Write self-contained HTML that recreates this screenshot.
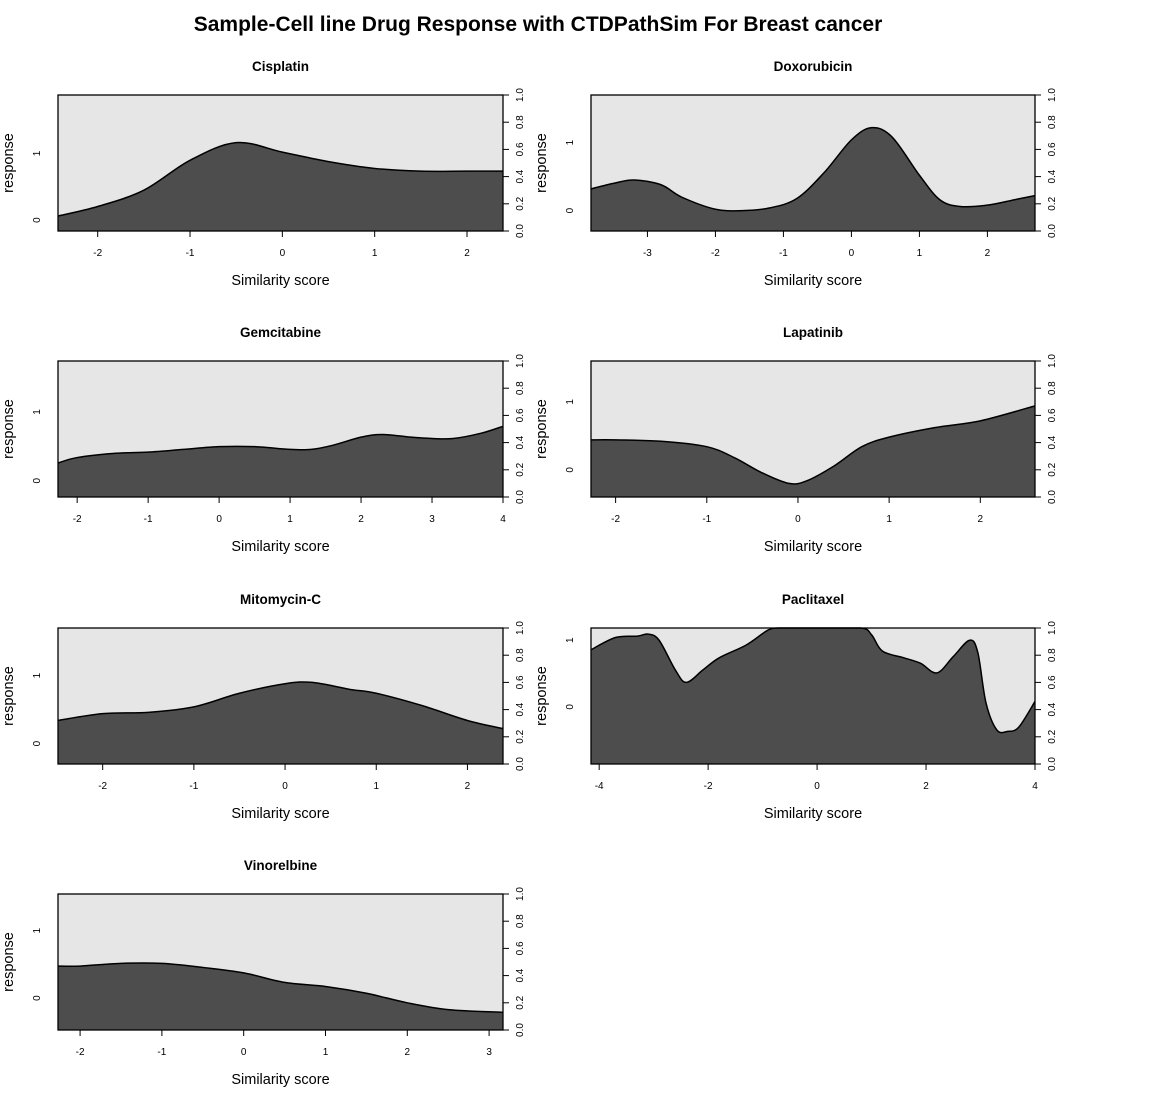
<!DOCTYPE html>
<html><head><meta charset="utf-8">
<style>
html,body{margin:0;padding:0;background:#fff;}
svg{display:block;}
text{font-family:"Liberation Sans",Arial,sans-serif;fill:#000;}
</style></head>
<body>
<svg id="chart" width="1175" height="1103" viewBox="0 0 1175 1103" xmlns="http://www.w3.org/2000/svg">
<text x="538" y="31" text-anchor="middle" font-size="21" font-weight="bold" style="font-family:'Liberation Sans',sans-serif">Sample-Cell line Drug Response with CTDPathSim For Breast cancer</text>
</svg>
<script>
// ---- data ----
const drugNames = ["Cisplatin","Doxorubicin","Gemcitabine","Lapatinib","Mitomycin-C","Paclitaxel","Vinorelbine"];
const xDomains = [[-2.43,2.39],[-3.83,2.7],[-2.27,4.0],[-2.27,2.6],[-2.49,2.39],[-4.15,4.0],[-2.27,3.17]];
const xTicks = [[-2,-1,0,1,2],[-3,-2,-1,0,1,2],[-2,-1,0,1,2,3,4],[-2,-1,0,1,2],[-2,-1,0,1,2],[-4,-2,0,2,4],[-2,-1,0,1,2,3]];
const rightTicks = [0,0.2,0.4,0.6,0.8,1.0];
const rightTickLabels = ["0.0","0.2","0.4","0.6","0.8","1.0"];
const leftTickLabels = ["0","1"];
// left axis tick positions, expressed in right-axis (0-1) units
const leftTickPos = [[0.08,0.57],[0.15,0.65],[0.12,0.625],[0.2,0.70],[0.15,0.65],[0.42,0.91],[0.235,0.73]];
const curveX = [
 [-2.43,-2,-1.5,-1,-0.5,0,0.5,1,1.5,2,2.39],
 [-3.83,-3.5,-3.2,-2.8,-2.5,-2,-1.6,-1.2,-0.8,-0.4,0,0.3,0.6,1,1.3,1.6,2,2.4,2.7],
 [-2.27,-2,-1.5,-1,-0.5,0,0.5,1,1.3,1.6,2,2.3,2.7,3,3.3,3.7,4],
 [-2.27,-2,-1.5,-1,-0.7,-0.4,-0.1,0.1,0.4,0.7,1,1.5,2,2.6],
 [-2.49,-2,-1.5,-1,-0.5,0,0.3,0.7,1,1.5,2,2.39],
 [-4.15,-3.7,-3.3,-3.1,-2.9,-2.6,-2.4,-2.1,-1.8,-1.3,-0.9,-0.7,0,0.8,1.0,1.2,1.6,1.9,2.2,2.5,2.8,2.95,3.1,3.3,3.5,3.7,4.0],
 [-2.27,-2,-1.5,-1,-0.5,0,0.5,1,1.5,2,2.5,3.17]
];
const curveY = [
 [0.11,0.18,0.30,0.52,0.65,0.58,0.51,0.46,0.44,0.44,0.44],
 [0.31,0.35,0.375,0.34,0.25,0.16,0.15,0.17,0.24,0.43,0.67,0.76,0.69,0.41,0.23,0.18,0.19,0.23,0.26],
 [0.25,0.29,0.32,0.33,0.35,0.37,0.37,0.35,0.35,0.38,0.44,0.46,0.44,0.43,0.43,0.47,0.52],
 [0.42,0.42,0.41,0.37,0.29,0.18,0.10,0.12,0.23,0.37,0.44,0.51,0.56,0.67],
 [0.32,0.37,0.38,0.42,0.52,0.59,0.60,0.55,0.52,0.43,0.32,0.26],
 [0.84,0.93,0.94,0.955,0.91,0.69,0.60,0.69,0.78,0.875,0.985,1.0,1.0,1.0,0.95,0.83,0.78,0.74,0.67,0.79,0.91,0.82,0.45,0.25,0.24,0.27,0.46],
 [0.47,0.47,0.49,0.49,0.46,0.42,0.35,0.32,0.27,0.20,0.15,0.13]
];
// ---- layout ----
const NS="http://www.w3.org/2000/svg";
const svg=document.getElementById('chart');
const colL=[58,503], colR=[591,1035];
const rowsTop=[95,361,628,894], H=136;
function mk(tag,attrs,parent){const e=document.createElementNS(NS,tag);for(const k in attrs)e.setAttribute(k,attrs[k]);(parent||svg).appendChild(e);return e;}
function fmt(v){return v<0?"-"+Math.abs(v):String(v);}

drugNames.forEach((name,i)=>{
  const col=i%2===0?colL:colR, top=rowsTop[Math.floor(i/2)], bot=top+H;
  const x0=col[0],x1=col[1];
  const [d0,d1]=xDomains[i];
  const sx=v=>x0+(v-d0)/(d1-d0)*(x1-x0);
  const sy=v=>bot-Math.min(1,Math.max(0,v))*H;
  const g=mk('g',{});
  
  
  const t=mk('text',{x:(x0+x1)/2,y:top-24,'text-anchor':'middle','font-size':13.5,'font-weight':'bold'},g);
  t.textContent=name;
  
  
  const bg=mk('rect',{x:x0,y:top,width:x1-x0,height:H,fill:'#e6e6e6'},g);
  
  
  // smooth curve (Catmull-Rom)
  const xs=curveX[i], ys=curveY[i];
  const P=xs.map((x,k)=>[sx(x),sy(ys[k])]);
  let d="M"+P[0][0]+","+P[0][1];
  for(let k=0;k<P.length-1;k++){
    const p0=P[Math.max(0,k-1)],p1=P[k],p2=P[k+1],p3=P[Math.min(P.length-1,k+2)];
    const c1=[p1[0]+(p2[0]-p0[0])/6, Math.max(top,Math.min(bot,p1[1]+(p2[1]-p0[1])/6))];
    const c2=[p2[0]-(p3[0]-p1[0])/6, Math.max(top,Math.min(bot,p2[1]-(p3[1]-p1[1])/6))];
    d+=" C"+c1[0]+","+c1[1]+" "+c2[0]+","+c2[1]+" "+p2[0]+","+p2[1];
  }
  const area=mk('path',{d:d+" L"+P[P.length-1][0]+","+bot+" L"+P[0][0]+","+bot+" Z",fill:'#4d4d4d'},g);
  
  
  const line=mk('path',{d:d,fill:'none',stroke:'#000','stroke-width':1.5},g);
  
  
  const fr=mk('rect',{x:x0,y:top,width:x1-x0,height:H,fill:'none',stroke:'#000','stroke-width':1.3},g);
  
  
  // x ticks
  xTicks[i].forEach(v=>{
    const x=sx(v);
    mk('line',{x1:x,x2:x,y1:bot,y2:bot+6,stroke:'#000'},g);
    const tl=mk('text',{x:x,y:bot+25,'text-anchor':'middle','font-size':10},g);
    tl.textContent=fmt(v);
    
    
  });
  const xl=mk('text',{x:(x0+x1)/2,y:bot+54,'text-anchor':'middle','font-size':14.5},g);
  xl.textContent="Similarity score";
  
  
  // right axis
  mk('line',{x1:x1,x2:x1,y1:top,y2:bot,stroke:'#000'},g);
  rightTicks.forEach((v,k)=>{
    const y=sy(v);
    mk('line',{x1:x1,x2:x1+6,y1:y,y2:y,stroke:'#000'},g);
    const tl=mk('text',{x:0,y:0,'text-anchor':'middle','font-size':10,transform:`translate(${x1+20},${y}) rotate(-90)`},g);
    tl.textContent=rightTickLabels[k];
    
    
  });
  // left axis labels
  leftTickPos[i].forEach((v,k)=>{
    const y=sy(v);
    const tl=mk('text',{x:0,y:0,'text-anchor':'middle','font-size':10,transform:`translate(${x0-18},${y}) rotate(-90)`},g);
    tl.textContent=leftTickLabels[k];
    
    
  });
  const yl=mk('text',{x:0,y:0,'text-anchor':'middle','font-size':14.5,transform:`translate(${x0-45},${(top+bot)/2}) rotate(-90)`},g);
  yl.textContent="response";
  
  
});
</script>
</body></html>
